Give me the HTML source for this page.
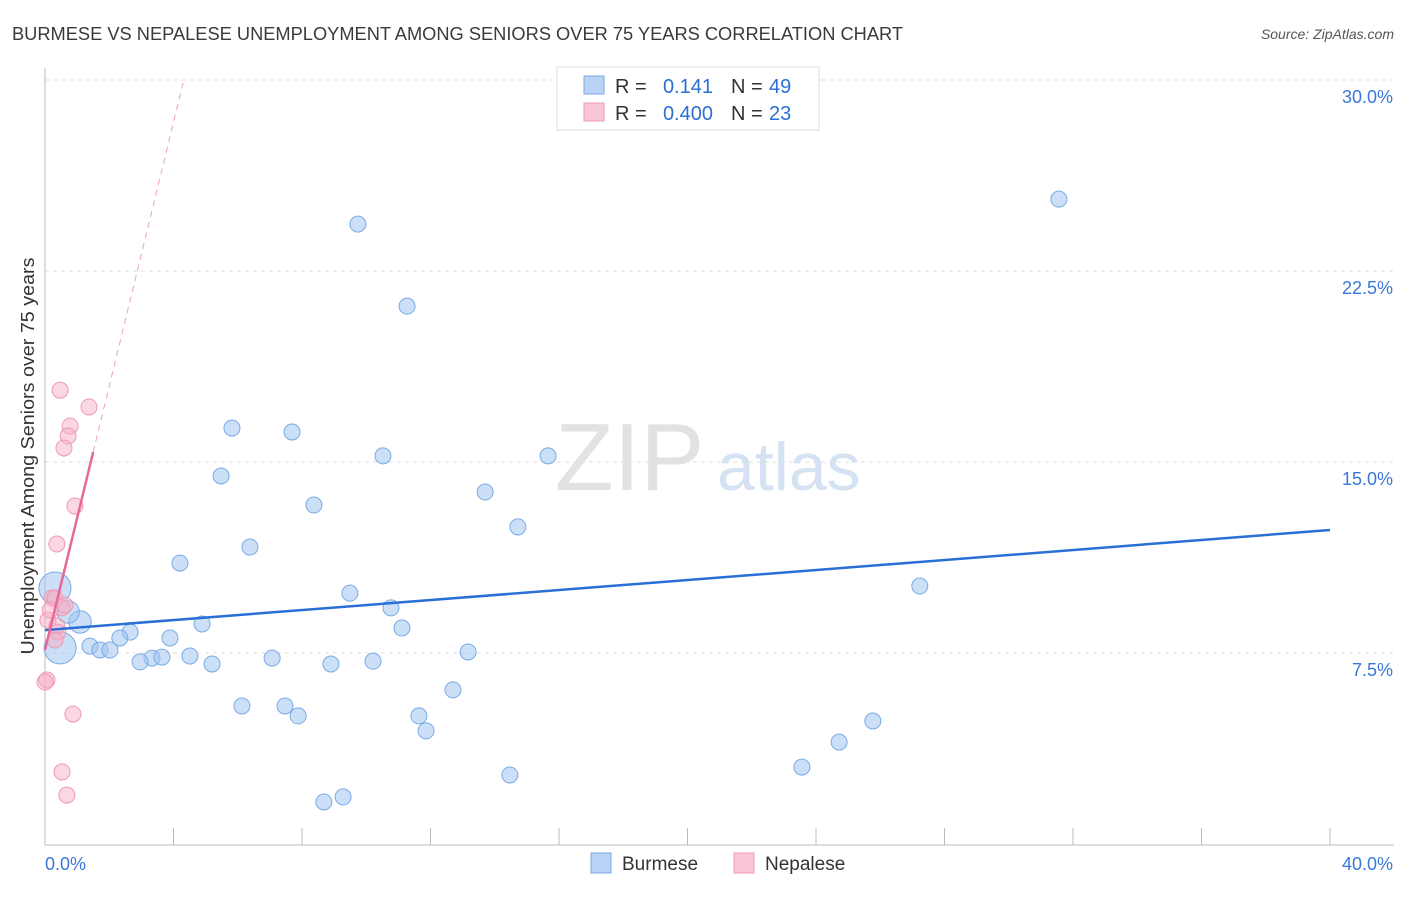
<!DOCTYPE html>
<html><head><meta charset="utf-8"><style>
body{margin:0;background:#fff;font-family:"Liberation Sans",sans-serif;}
svg text{font-family:"Liberation Sans",sans-serif;}
</style></head><body>
<svg width="1406" height="892">
<text x="12" y="40" font-size="18" fill="#3a3a3a" textLength="891" lengthAdjust="spacingAndGlyphs">BURMESE VS NEPALESE UNEMPLOYMENT AMONG SENIORS OVER 75 YEARS CORRELATION CHART</text>
<text x="1394" y="39" font-size="14" fill="#555" text-anchor="end" font-style="italic">Source: ZipAtlas.com</text>
<g id="grid"></g>
<text x="555" y="490" font-size="96" fill="#e2e2e2" font-family="Liberation Serif">ZIP</text>
<text x="717" y="490" font-size="68" fill="#d4e2f4">atlas</text>
<g id="axes"></g>
<g id="marks"></g>
<text x="34" y="456" font-size="18" fill="#333" text-anchor="middle" textLength="397" lengthAdjust="spacingAndGlyphs" transform="rotate(-90 34 456)">Unemployment Among Seniors over 75 years</text>
<g>
<rect x="557" y="67" width="262" height="63" fill="#fff" stroke="#ddd"/>
<rect x="584" y="76" width="20" height="18" fill="#b8d3f5" stroke="#7aaae6"/>
<rect x="584" y="103" width="20" height="18" fill="#f9c6d6" stroke="#ee99b5"/>
<g font-size="20" fill="#333">
<text x="615" y="93">R =</text><text x="713" y="93" fill="#2a6fd6" text-anchor="end">0.141</text>
<text x="731" y="93">N =</text><text x="769" y="93" fill="#2a6fd6">49</text>
<text x="615" y="120">R =</text><text x="713" y="120" fill="#2a6fd6" text-anchor="end">0.400</text>
<text x="731" y="120">N =</text><text x="769" y="120" fill="#2a6fd6">23</text>
</g>
</g>
<g>
<rect x="591" y="853" width="20" height="20" fill="#b8d3f5" stroke="#7aaae6"/>
<text x="622" y="870" font-size="19" fill="#333">Burmese</text>
<rect x="734" y="853" width="20" height="20" fill="#f9c6d6" stroke="#ee99b5"/>
<text x="765" y="870" font-size="19" fill="#333">Nepalese</text>
</g>
</svg>
<script>
const yTicks=[7.5,15,22.5,30];
const yTickLabels=["7.5%","15.0%","22.5%","30.0%"];
const xTicks=[0,4,8,12,16,20,24,28,32,36,40];
const burmeseX=[31.56,9.74,11.27,5.82,7.69,10.52,15.66,5.48,13.70,8.37,14.72,6.38,4.20,27.23,9.49,10.77,4.89,11.11,2.65,2.33,3.89,1.40,1.71,2.02,3.33,3.64,4.51,2.96,7.07,8.90,10.21,5.20,13.17,12.70,6.13,7.47,7.88,11.64,11.86,25.77,24.72,23.56,14.47,8.68,9.28,0.31,0.47,1.09,0.72];
const burmeseY=[25.32,24.34,21.12,16.33,16.18,15.24,15.24,14.45,13.82,13.31,12.45,11.66,11.03,10.13,9.85,9.27,8.64,8.48,8.32,8.09,8.09,7.77,7.62,7.62,7.30,7.34,7.38,7.15,7.30,7.07,7.18,7.07,7.54,6.05,5.42,5.42,5.03,5.03,4.44,4.83,4.00,3.02,2.71,1.65,1.85,10.05,7.70,8.72,9.11];
const burmeseSize=[1,1,1,1,1,1,1,1,1,1,1,1,1,1,1,1,1,1,1,1,1,1,1,1,1,1,1,1,1,1,1,1,1,1,1,1,1,1,1,1,1,1,1,1,1,2,2,1.4,1.4];
const nepaleseX=[0.47,1.37,0.78,0.72,0.59,0.93,0.37,0.22,0.31,0.53,0.09,0.37,0.40,0.31,0.06,0,0.87,0.53,0.68,0.16,0.62];
const nepaleseY=[17.82,17.16,16.41,16.02,15.55,13.27,11.78,9.66,9.66,9.27,8.79,8.56,8.32,8.01,6.44,6.36,5.10,2.83,1.92,9.19,9.38];
const burmeseTrend=[8.4,12.33];
const nepaleseTrend=[7.62,5.18];
const X=v=>45+v*32.125, Y=v=>844-v*25.467;
const NS="http://www.w3.org/2000/svg";
function mk(t,a,p){const e=document.createElementNS(NS,t);for(const k in a)e.setAttribute(k,a[k]);p.appendChild(e);return e;}
const grid=document.getElementById('grid'),axes=document.getElementById('axes'),marks=document.getElementById('marks');
yTicks.forEach((v,i)=>{
 const l=mk('line',{x1:45,x2:1394,y1:Y(v),y2:Y(v),stroke:'#ddd','stroke-dasharray':'4,4'},grid);
 
 
 const t=mk('text',{x:1393,y:Y(v)+23,'font-size':18,fill:'#3a78d8','text-anchor':'end'},axes);
 t.textContent=yTickLabels[i];
 
 
});
const ax=mk('line',{x1:45,x2:1394,y1:845,y2:845,stroke:'#bbb'},axes);


const ay=mk('line',{x1:45,x2:45,y1:68,y2:845,stroke:'#bbb'},axes);


xTicks.forEach(v=>{const t=mk('line',{x1:X(v),x2:X(v),y1:828,y2:845,stroke:'#bbb'},axes);
 
 });
[[0,"0.0%",'start',45],[40,"40.0%",'end',1393]].forEach(d=>{const t=mk('text',{x:d[3],y:870,'font-size':18,fill:'#3a78d8','text-anchor':d[2]},axes);t.textContent=d[1];
 
 });
burmeseX.forEach((x,i)=>{const c=mk('circle',{cx:X(x),cy:Y(burmeseY[i]),r:8*burmeseSize[i],fill:'rgba(160,196,240,0.55)',stroke:'#7aaae6','stroke-width':1},marks);
 
 });
nepaleseX.forEach((x,i)=>{const c=mk('circle',{cx:X(x),cy:Y(nepaleseY[i]),r:8,fill:'rgba(245,175,198,0.5)',stroke:'#ee99b5','stroke-width':1},marks);
 
 });
const bl=mk('line',{x1:X(0),y1:Y(burmeseTrend[0]),x2:X(40),y2:Y(burmeseTrend[1]),stroke:'#2a6fd6','stroke-width':2.5},marks);


const nx=(30-nepaleseTrend[0])/nepaleseTrend[1];
const nd=mk('line',{x1:X(1.5),y1:Y(nepaleseTrend[0]+1.5*nepaleseTrend[1]),x2:X(nx),y2:Y(30),stroke:'#e8a0bb','stroke-width':1,'stroke-dasharray':'6,5'},marks);


const nl=mk('line',{x1:X(0),y1:Y(nepaleseTrend[0]),x2:X(1.5),y2:Y(nepaleseTrend[0]+1.5*nepaleseTrend[1]),stroke:'#e8689a','stroke-width':2.5},marks);


</script>
</body></html>
